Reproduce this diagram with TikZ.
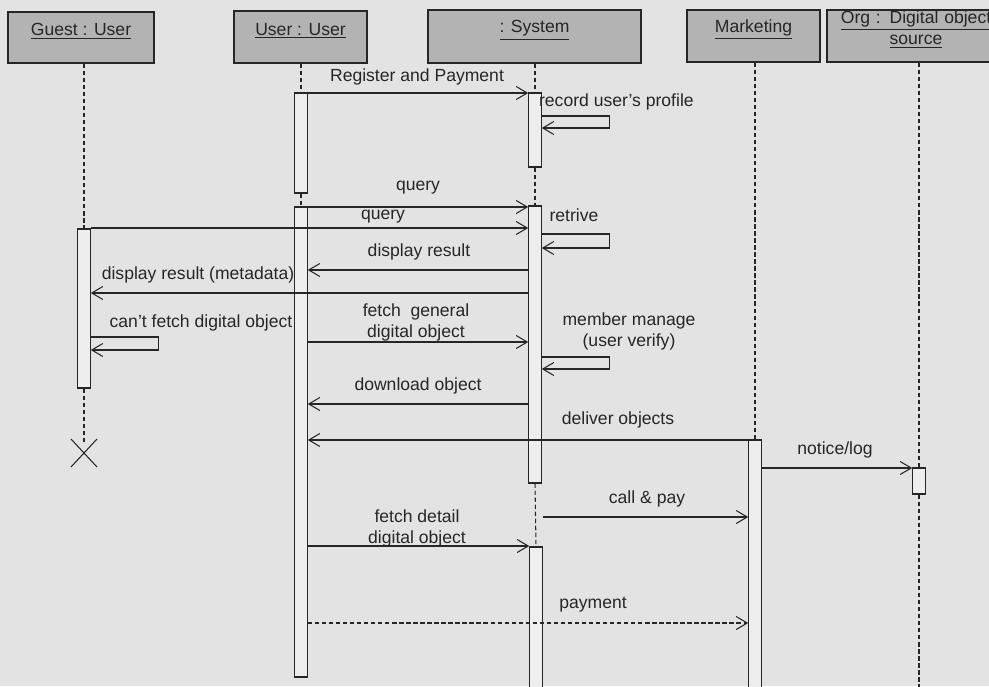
\documentclass[tikz,border=0pt]{standalone}
\usepackage{fontspec}
\setmainfont{Liberation Sans}
\usetikzlibrary{arrows.meta, positioning, fit, calc}
\definecolor{scanbg}{HTML}{E3E3E3}
\definecolor{headgray}{HTML}{B3B3B3}
\definecolor{inkcol}{HTML}{262626}

\begin{document}
\begin{tikzpicture}[x=0.02cm, y=-0.02cm,
  every node/.style={font=\fontsize{10}{12}\selectfont, text=inkcol},
  head/.style={draw=inkcol, fill=headgray, inner sep=0pt, line width=0.6pt},
  headone/.style={head, text height=7pt, text depth=11pt},
  act/.style={draw=inkcol, fill=scanbg!60!white, inner sep=0pt, minimum width=0.25cm, line width=0.6pt},
  life/.style={inkcol, line width=0.6pt, dash pattern=on 2.5pt off 1.5pt},
  msg/.style={inkcol, line width=0.6pt, -{Straight Barb[length=2.2mm, width=2.6mm]}},
  reply/.style={msg, dash pattern=on 2.5pt off 1.5pt},
  lbl/.style={inner sep=1pt, align=center}]
  \clip (0,0) rectangle (989,686);
  \fill[scanbg] (0,0) rectangle (989,686);

  % lifeline heads
  \node[headone, fit={(8,12) (154,63)}] (guest) {\underline{Guest : User}};
  \node[headone, fit={(234,11) (367,63)}] (user) {\underline{User : User}};
  \node[headone, fit={(428,10) (641,63)}] (sys) {\underline{: System}};
  \node[headone, fit={(687,10) (820,62)}] (mkt) {\underline{Marketing}};
  \node[head, fit={(827,10) (1005,62)}, align=center] (org) {\rule{0pt}{12pt}\underline{Org : Digital object}\\\underline{source}};

  % activations
  \node[act, fit={(84,229) (84,388)}] (ga) {};
  \node[act, fit={(301,93) (301,193)}] (ua1) {};
  \node[act, fit={(301,207) (301,677)}] (ua2) {};
  \node[act, fit={(535,93) (535,167)}] (sa1) {};
  \node[act, fit={(535,206) (535,483)}] (sa2) {};
  \node[act, fit={(536,547) (536,700)}] (sa3) {};
  \node[act, fit={(755,440) (755,700)}] (ma) {};
  \node[act, fit={(919,468) (919,494)}] (oa) {};

  % lifelines
  \coordinate (gx) at (84,453);
  \draw[life] (ga.north |- guest.south) -- (ga.north);
  \draw[life] (ga.south) -- ($(gx)+(0,-10)$);
  \draw[inkcol, line width=0.6pt] (gx) +(-13,-14) -- +(13,14) (gx) +(-13,14) -- +(13,-14);
  \draw[life] (ua1.north |- user.south) -- (ua1.north);
  \draw[life] (ua1.south) -- (ua2.north);
  \draw[life] (sa1.north |- sys.south) -- (sa1.north);
  \draw[life] (sa1.south) -- (sa2.north);
  \draw[life] (sa2.south) -- (sa3.north);
  \draw[life] (ma.north |- mkt.south) -- (ma.north);
  \draw[life] (oa.north |- org.south) -- (oa.north);
  \draw[life] (oa.south) -- (oa.south |- 0,700);

  % messages
  \draw[msg] (ua1.east |- 0,93) -- (sa1.west |- 0,93);
  \node[lbl] (reg) at (417,77) {Register and Payment};
  \draw[msg] (sa1.east |- 0,116) -- ++(68,0) -- ++(0,12) -- (sa1.east |- 0,128);
  \node[lbl, anchor=west] (rec) at (537,102) {record user's profile};
  \draw[msg] (ua2.east |- 0,207) -- (sa2.west |- 0,207);
  \node[lbl] (q1) at (418,188) {query};
  \draw[msg] (ga.east |- 0,228) -- (sa2.west |- 0,228);
  \node[lbl] (q2) at (383,217) {query};
  \draw[msg] (sa2.east |- 0,234) -- ++(68,0) -- ++(0,14) -- (sa2.east |- 0,248);
  \node[lbl] (ret) at (574,215) {retrive};
  \draw[msg] (sa2.west |- 0,270) -- (ua2.east |- 0,270);
  \node[lbl] (dr) at (419,252) {display result};
  \draw[msg] (sa2.west |- 0,293) -- (ga.east |- 0,293);
  \node[lbl] (drm) at (198,275) {display result (metadata)};
  \draw[msg] (ga.east |- 0,337) -- ++(68,0) -- ++(0,13) -- (ga.east |- 0,350);
  \node[lbl] (cant) at (201,323) {can't fetch digital object};
  \draw[msg] (ua2.east |- 0,342) -- (sa2.west |- 0,342);
  \node[lbl] (fg) at (416,322) {fetch\ \ general\\digital object};
  \draw[msg] (sa2.east |- 0,357) -- ++(68,0) -- ++(0,12) -- (sa2.east |- 0,369);
  \node[lbl] (mm) at (629,331) {member manage\\(user verify)};
  \draw[msg] (sa2.west |- 0,404) -- (ua2.east |- 0,404);
  \node[lbl] (dl) at (418,386) {download object};
  \draw[msg] (ma.west |- 0,440) -- (ua2.east |- 0,440);
  \node[lbl] (dv) at (618,420) {deliver objects};
  \draw[msg] (ma.east |- 0,468) -- (oa.west |- 0,468);
  \node[lbl] (nl) at (835,450) {notice/log};
  \coordinate (cp) at (543,517);
  \draw[msg] (cp) -- (ma.west |- cp);
  \node[lbl] (cpl) at (647,499) {call \& pay};
  \draw[msg] (ua2.east |- 0,546) -- (sa3.west |- 0,546);
  \node[lbl] (fd) at (417,528) {fetch detail\\digital object};
  \draw[reply] (ua2.east |- 0,623) -- (ma.west |- 0,623);
  \node[lbl] (pay) at (593,605) {payment};
\end{tikzpicture}
\end{document}
